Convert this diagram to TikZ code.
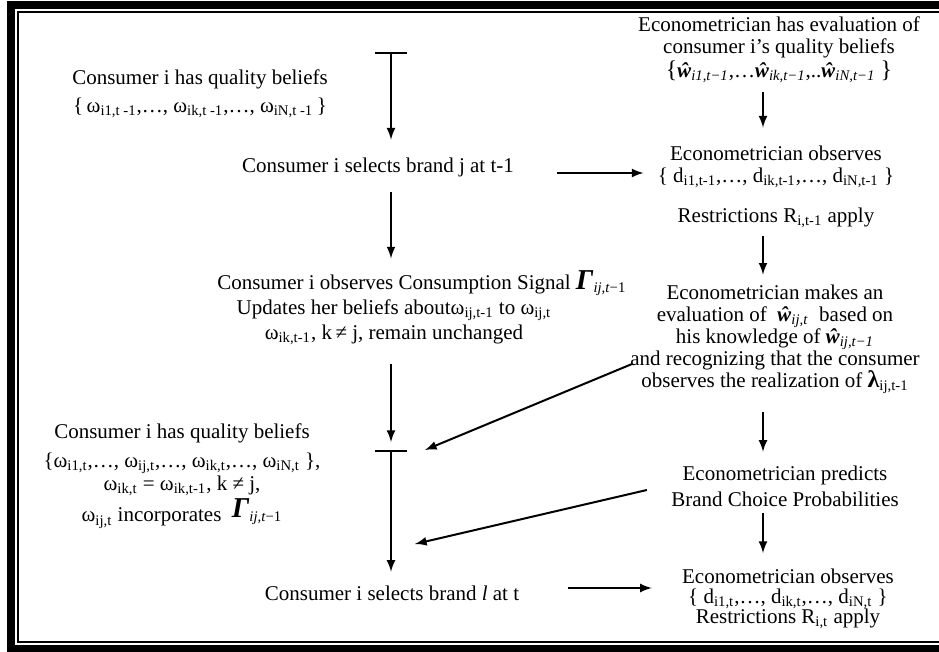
\documentclass[tikz,border=0pt]{standalone}
\usepackage{fontspec}
\setmainfont{Liberation Serif}
\tikzset{>=latex}
\newcommand{\om}[1]{ω\textsubscript{#1}}
\newcommand{\wh}[1]{\textbf{\textit{ŵ}}\textsubscript{\textit{#1}}}
\newcommand{\sig}{{\Large\textbf{\textit{Γ}}}\textsubscript{\textit{ij,t}−1}}

\begin{document}
\begin{tikzpicture}[x=0.5pt, y=-0.5pt,
    txt/.style={align=center, inner sep=0pt, font=\fontsize{10.5}{11}\selectfont},
    arr/.style={->, line width=1pt},
    bar/.style={line width=1pt}]
  \useasboundingbox (0,0) rectangle (939,652);
  % double frame, right side runs off the page
  \draw[line width=4pt, line join=miter] (960,5) -- (11,5) -- (11,649) -- (960,649);
  \draw[line width=1pt, line join=miter] (960,12) -- (18,12) -- (18,642) -- (960,642);

  % consumer side
  \node[txt] (c0) at (200,94) {Consumer i has quality beliefs\\[3pt]
    \{\,\om{i1,t -1},\ldots, \om{ik,t -1},\ldots,\ \om{iN,t -1}\,\}};
  \node[txt] (c1) at (378,167) {Consumer i selects brand j at t-1};
  \node[txt] (c2) at (394,308) {Consumer i observes Consumption Signal\rlap{\ \sig}\\[1.5pt]
    Updates her beliefs about\om{ij,t-1} to \om{ij,t}\\[1.5pt]
    \om{ik,t-1}, k\,≠ j, remain unchanged};
  \node[txt] (c3) at (182,476) {Consumer i has quality beliefs\\[3.5pt]
    \{\om{i1,t},\ldots, \om{ij,t},\ldots, \om{ik,t},\ldots, \om{iN,t} \},\\[0.5pt]
    \om{ik,t} = \om{ik,t-1}, k ≠ j,\\[0.5pt]
    \om{ij,t} incorporates \ \raisebox{2pt}{\sig}};
  \node[txt] (c4) at (392,593) {Consumer i selects brand \textit{l} at t};

  % econometrician side
  \node[txt] (e0) at (779,50) {Econometrician has evaluation of\\
    consumer i’s quality beliefs\\[1pt]
    {\large\{}\wh{i1,t−1},\ldots\wh{ik,t−1},..\wh{iN,t−1}\ {\large\}}};
  \node[txt] (e1) at (776,187) {Econometrician observes\\
    \{ d\textsubscript{i1,t-1},\ldots, d\textsubscript{ik,t-1},\ldots, d\textsubscript{iN,t-1} \}\\[9pt]
    Restrictions R\textsubscript{i,t-1} apply};
  \node[txt] (e2) at (775,339) {Econometrician makes an\\
    evaluation of \ \wh{ij,t} \ based on\\
    his knowledge of \wh{ij,t−1}\\
    and recognizing that the consumer\\
    observes the realization of {\large\textbf{λ}}\textsubscript{ij,t-1}};
  \node[txt] (e3) at (785,486) {Econometrician predicts\\[2pt] Brand Choice Probabilities};
  \node[txt] (e4) at (788,599) {Econometrician observes\\[-1pt]
    \{ d\textsubscript{i1,t},\ldots, d\textsubscript{ik,t},\ldots, d\textsubscript{iN,t} \}\\[-1pt]
    Restrictions R\textsubscript{i,t} apply};

  \coordinate (t0) at (391,53);
  \coordinate (t1) at (391,451);
  \coordinate (rx) at (763,0);
  \coordinate (in0) at (425,450);
  \coordinate (in1) at (415,544);

  \draw[bar] ([xshift=-8pt]t0) -- ([xshift=8pt]t0);
  \draw[bar] ([xshift=-8pt]t1) -- ([xshift=8pt]t1);
  \draw[arr, shorten >=8.75pt] (t0) -- (t0 |- c1.north);
  \draw[arr, shorten <=7.75pt, shorten >=6pt] (t0 |- c1.south) -- (t0 |- c2.north);
  \draw[arr, shorten <=9pt, shorten >=4.5pt] (t0 |- c2.south) -- (t1);
  \draw[arr, shorten >=6.75pt] (t1) -- (t1 |- c4.north);
  \draw[arr, shorten <=21.5pt, shorten >=7pt] ([yshift=-3pt]c1.east) -- ([yshift=-3pt]c1.east -| e1.west);
  \draw[arr, shorten <=24pt, shorten >=15pt] ([yshift=2.5pt]c4.east) -- ([yshift=2.5pt]c4.east -| e4.west);
  \draw[arr, shorten <=4pt, shorten >=9pt] (rx |- e0.south) -- (rx |- e1.north);
  \draw[arr, shorten <=4pt, shorten >=4.75pt] (rx |- e1.south) -- (rx |- e2.north);
  \draw[arr, shorten <=9pt, shorten >=6.75pt] (rx |- e2.south) -- (rx |- e3.north);
  \draw[arr, shorten <=3.25pt, shorten >=7.75pt] (rx |- e3.south) -- (rx |- e4.north);
  \draw[arr] ([xshift=1pt,yshift=-12.5pt]e2.west) -- (in0);
  \draw[arr] ([xshift=-12pt,yshift=-2pt]e3.west) -- (in1);
\end{tikzpicture}
\end{document}
